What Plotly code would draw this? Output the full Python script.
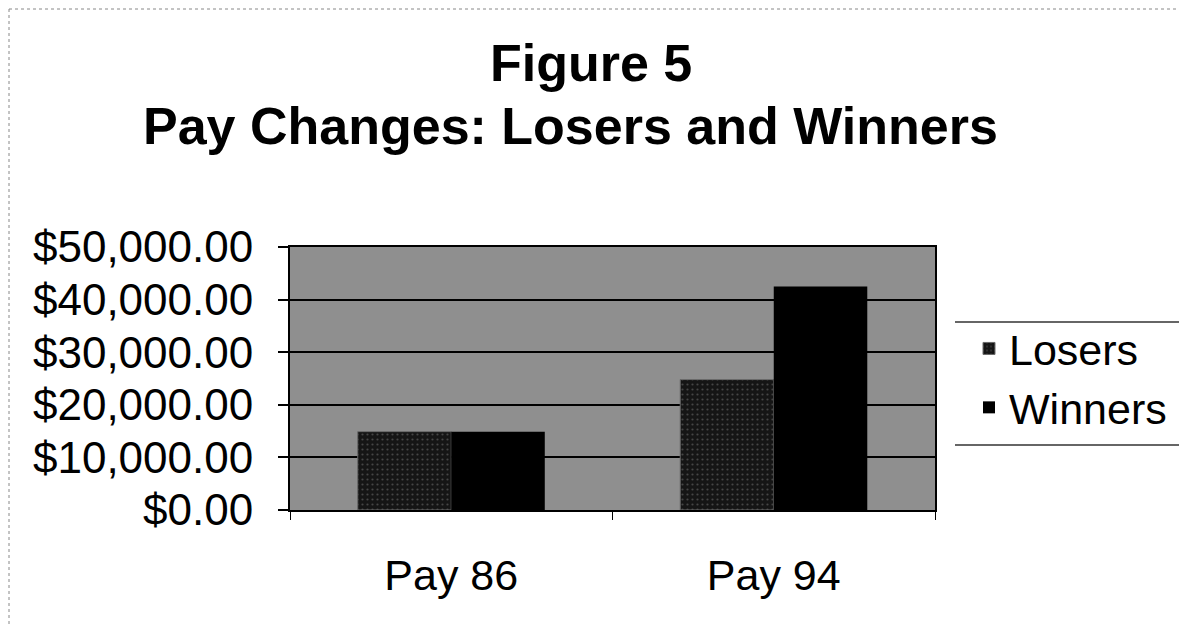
import plotly.graph_objects as go

# Data
categories = ["Pay 86", "Pay 94"]
losers = [14900, 24800]
winners = [14900, 42500]
y_ticks = [0, 10000, 20000, 30000, 40000, 50000]
y_labels = ["$0.00", "$10,000.00", "$20,000.00", "$30,000.00", "$40,000.00", "$50,000.00"]

# page body has an 8px margin, so the figure is drawn 8px in from the corner
OFF = 8
W, H = 1187 - 2 * OFF, 635 - 2 * OFF
PL, PR, PT, PB = 290, 935, 247, 510   # plot box in screen pixels
L, T = PL - OFF, PT - OFF
R, B = W - (PR - OFF), H - (PB - OFF)


def px_x(x):
    return (x - PL) / (PR - PL)


def px_y(y):
    return (PB - y) / (PB - PT)


fig = go.Figure()

fig.add_trace(go.Bar(
    x=categories, y=losers, name="Losers",
    marker=dict(color="#151515",
                line=dict(color="#6a6a6a", width=1),
                pattern=dict(shape=".", fgcolor="#777777", bgcolor="#151515",
                             size=5, solidity=0.15)),
))
fig.add_trace(go.Bar(
    x=categories, y=winners, name="Winners",
    marker=dict(color="#000000", line=dict(width=0)),
))

fig.update_layout(
    width=W, height=H,
    margin=dict(l=L, r=R, t=T, b=B, autoexpand=False),
    paper_bgcolor="white",
    plot_bgcolor="#8f8f8f",
    barmode="group",
    bargap=0.42,
    bargroupgap=0,
    font=dict(family="Liberation Sans, Arial, sans-serif", color="black"),
    legend=dict(
        x=px_x(969), xanchor="left",
        y=px_y(378), yanchor="middle",
        font=dict(size=43),
        bgcolor="rgba(0,0,0,0)",
        tracegroupgap=0,
    ),
    showlegend=True,
)

# two-line title
fig.add_annotation(text="<b>Figure 5</b>", xref="paper", yref="paper",
                   x=px_x(591), y=px_y(63), xanchor="center", yanchor="middle",
                   showarrow=False, font=dict(size=52))
fig.add_annotation(text="<b>Pay Changes: Losers and Winners</b>", xref="paper", yref="paper",
                   x=px_x(570), y=px_y(126), xanchor="center", yanchor="middle",
                   showarrow=False, font=dict(size=52))

fig.update_yaxes(
    range=[0, 50000],
    tickvals=y_ticks, ticktext=y_labels,
    tickfont=dict(size=44),
    showgrid=True, gridcolor="black", gridwidth=1.5,
    ticks="outside", ticklen=10, tickcolor="black", tickwidth=1.5,
    ticklabelstandoff=16,
    showline=True, linecolor="black", linewidth=2, mirror=True,
    zeroline=False,
)
fig.update_xaxes(
    tickfont=dict(size=43),
    ticks="outside", tickson="boundaries", ticklen=8, tickcolor="black",
    ticklabelstandoff=26,
    showline=True, linecolor="black", linewidth=2, mirror=True,
)

# legend rules above and below, and the faint page frame
for yy in (322, 445):
    fig.add_shape(type="line", xref="paper", yref="paper",
                  x0=px_x(955), x1=px_x(1187), y0=px_y(yy), y1=px_y(yy),
                  line=dict(color="#333333", width=1.5))
fig.add_shape(type="line", xref="paper", yref="paper",
              x0=px_x(9), x1=px_x(1187), y0=px_y(9), y1=px_y(9),
              line=dict(color="#888888", width=1, dash="dot"))
fig.add_shape(type="line", xref="paper", yref="paper",
              x0=px_x(9), x1=px_x(9), y0=px_y(9), y1=px_y(635),
              line=dict(color="#888888", width=1, dash="dot"))

fig.write_html("out.html")
